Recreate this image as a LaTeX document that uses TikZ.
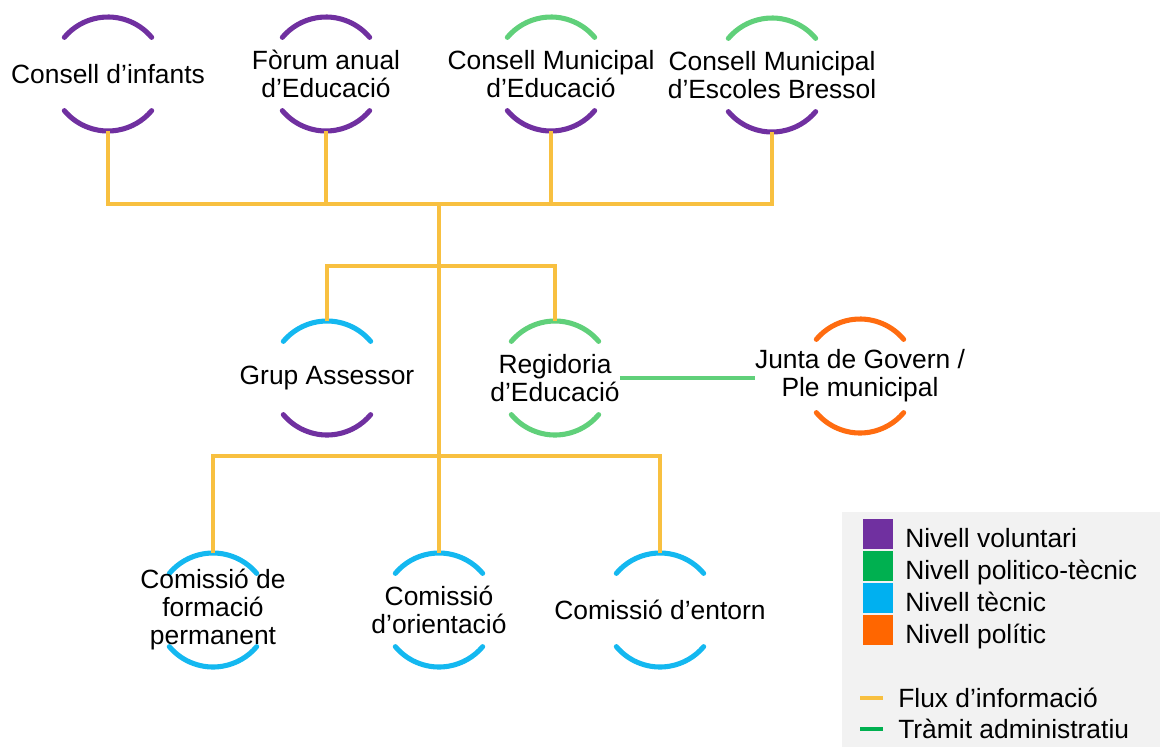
\documentclass[tikz,border=0pt]{standalone}
\usepackage{fontspec}
\setmainfont{Liberation Sans}
\usepackage{xcolor}
\usetikzlibrary{positioning}
\definecolor{volpurple}{RGB}{112,48,160}
\definecolor{ptgreen}{RGB}{96,208,122}
\definecolor{ptlegend}{RGB}{0,176,80}
\definecolor{tecblue}{RGB}{20,184,240}
\definecolor{teclegend}{RGB}{0,176,240}
\definecolor{polorange}{RGB}{255,108,16}
\definecolor{pollegend}{RGB}{255,102,0}
\definecolor{infoyellow}{RGB}{248,192,64}
\definecolor{legendgray}{RGB}{242,242,242}

\begin{document}
\begin{tikzpicture}[
        x=0.75pt, y=0.75pt,
        ring/.style={circle, minimum size=85.5pt, inner sep=0pt, outer sep=0pt},
        ringarc/.style={line width=3.8pt, line cap=round},
        lbl/.style={align=center, inner sep=0pt, font=\fontsize{19.8}{21}\selectfont},
        info/.style={draw=infoyellow, line width=2.5pt},
        admin/.style={draw=ptgreen, line width=2.5pt},
        keybox/.style={minimum size=22.5pt, inner sep=0pt, outer sep=0pt},
        keytext/.style={anchor=base west, inner sep=0pt, font=\fontsize{19.8}{24}\selectfont}
    ]
        \useasboundingbox (0,0) rectangle (1160,-747);

        \node[ring] (inf) at (108,-74) {};
        \node[ring] (forum) at (326,-74) {};
        \node[ring] (cme) at (551,-74) {};
        \node[ring] (cmeb) at (772,-75) {};
        \node[ring] (grup) at (327,-378) {};
        \node[ring] (reg) at (555,-378) {};
        \node[ring] (jun) at (860,-376) {};
        \node[ring] (form) at (213,-610) {};
        \node[ring] (ori) at (439,-610) {};
        \node[ring] (ent) at (660,-610) {};

        \foreach \n/\up/\dn in {inf/volpurple/volpurple, forum/volpurple/volpurple, cme/ptgreen/volpurple, cmeb/ptgreen/volpurple, grup/tecblue/volpurple, reg/ptgreen/ptgreen, jun/polorange/polorange, form/tecblue/tecblue, ori/tecblue/tecblue, ent/tecblue/tecblue} {
            \draw[ringarc, draw=\up] (\n.40) arc[start angle=40, end angle=140, radius=42.75pt];
            \draw[ringarc, draw=\dn] (\n.220) arc[start angle=220, end angle=320, radius=42.75pt];
        }

        \node[lbl] (inf-t) at (inf) {Consell d’infants};
        \node[lbl] (forum-t) at (forum) {Fòrum anual\\d’Educació};
        \node[lbl] (cme-t) at (cme) {Consell Municipal\\d’Educació};
        \node[lbl] (cmeb-t) at (cmeb) {Consell Municipal\\d’Escoles Bressol};
        \node[lbl] (grup-t) at (grup) {Grup Assessor};
        \node[lbl] (reg-t) at (reg) {Regidoria\\d’Educació};
        \node[lbl] (jun-t) at (jun) {Junta de Govern /\\Ple municipal};
        \node[lbl] (form-t) at (form) {Comissió de\\formació\\permanent};
        \node[lbl] (ori-t) at (ori) {Comissió\\d’orientació};
        \node[lbl] (ent-t) at (ent) {Comissió d’entorn};

        \coordinate (top) at (439,-204);
        \coordinate (mid) at (439,-266);
        \coordinate (low) at (439,-456);

        \draw[info] (inf.south) |- (cmeb.south |- top) -- (cmeb.south);
        \draw[info] (forum.south) -- (forum.south |- top);
        \draw[info] (cme.south) -- (cme.south |- top);
        \draw[info, line width=3.1pt] (forum.south |- top) -- (cme.south |- top);
        \draw[info] (top) -- (ori.north);
        \draw[info] (grup.north) |- (reg.north |- mid) -- (reg.north);
        \draw[info] (form.north) |- (ent.north |- low) -- (ent.north);
        \draw[admin] (reg-t.east) -- (reg-t.east -| jun-t.west);

        \fill[legendgray] (842,-512) rectangle (1160,-747);
        \node[keybox, fill=volpurple] (k1) at (878,-533.5) {};
        \node[keybox, fill=ptlegend] (k2) at (878,-565.5) {};
        \node[keybox, fill=teclegend] (k3) at (878,-597.5) {};
        \node[keybox, fill=pollegend] (k4) at (878,-629.5) {};
        \node[keytext] (k1-t) at (905,-547) {Nivell voluntari};
        \node[keytext] (k2-t) at (905,-579) {Nivell politico-tècnic};
        \node[keytext] (k3-t) at (905,-611) {Nivell tècnic};
        \node[keytext] (k4-t) at (905,-643) {Nivell polític};
        \draw[info] (860,-698) -- (883,-698);
        \draw[draw=ptlegend, line width=2.5pt] (860,-729) -- (883,-729);
        \node[keytext] (k5-t) at (898,-707) {Flux d’informació};
        \node[keytext] (k6-t) at (898,-738) {Tràmit administratiu};
    \end{tikzpicture}
\end{document}
